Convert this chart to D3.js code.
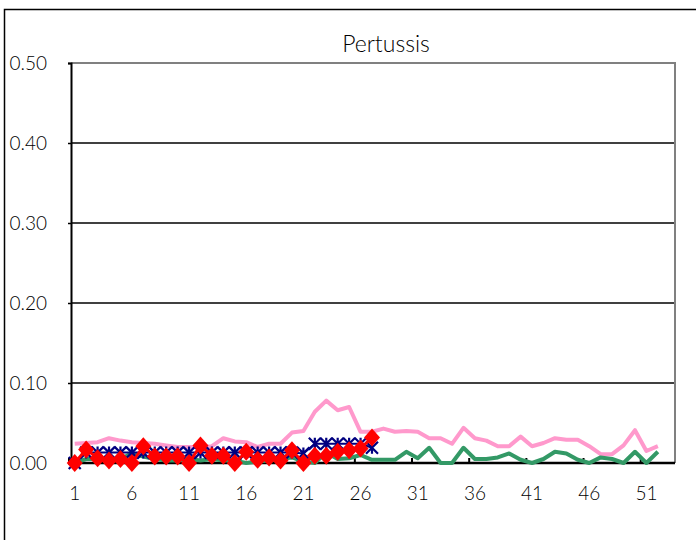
<!DOCTYPE html>
<html><head><meta charset="utf-8">
<script src="https://cdn.jsdelivr.net/npm/d3@7"></script>
<style>body{margin:0;background:#fff}svg{display:block}</style>
</head><body><svg id="c" width="696" height="540"></svg>
<script>
const weeks = d3.range(1, 54); // 53 category slots, week 53 empty
const tickLabels = [1,6,11,16,21,26,31,36,41,46,51];
const yTicks = [0,0.1,0.2,0.3,0.4,0.5];
const pink = [0.024,0.025,0.026,0.031,0.028,0.026,0.025,0.024,0.022,0.020,0.020,0.020,0.021,0.031,0.027,0.026,0.020,0.024,0.024,0.038,0.040,0.064,0.078,0.066,0.070,0.039,0.039,0.043,0.039,0.040,0.039,0.031,0.031,0.024,0.044,0.031,0.028,0.021,0.021,0.033,0.021,0.025,0.031,0.029,0.029,0.021,0.011,0.011,0.022,0.041,0.015,0.021];
const green = [0,0.005,0.005,0.003,0.005,0.012,0.008,0.005,0.003,0.003,0.005,0.003,0.005,0.003,0.003,0,0.002,0.003,0.005,0.007,0.002,0,0.013,0.005,0.006,0.010,0.004,0.004,0.004,0.014,0.006,0.019,0,0,0.019,0.005,0.005,0.007,0.012,0.004,0,0.005,0.014,0.012,0.004,0,0.007,0.005,0,0.014,0,0.014];
const blue = [0,0.013,0.013,0.013,0.013,0.013,0.013,0.013,0.013,0.013,0.013,0.013,0.013,0.013,0.013,0.013,0.013,0.013,0.013,0.013,0.012,0.024,0.024,0.024,0.024,0.024,0.019];
const red = [0,0.017,0.006,0.003,0.005,0,0.021,0.008,0.008,0.008,0,0.022,0.009,0.009,0,0.014,0.004,0.007,0.003,0.016,0,0.009,0.009,0.014,0.016,0.018,0.032];

const svg = d3.select("#c");
const font = "Lato,'Open Sans',sans-serif";
const L = 71, R = 675, T = 63, B = 463;
const x = d3.scaleBand().domain(weeks).range([69, 675]).paddingInner(0).paddingOuter(0);
const cx = w => x(w) + x.bandwidth()/2;
const y = d3.scaleLinear().domain([0, 0.5]).range([B, T]);

// outer chart border
svg.append("rect").attr("x",4.5).attr("y",9.5).attr("width",720).attr("height",600)
  .attr("fill","none").attr("stroke","#000").attr("stroke-width",1.5);

// title
svg.append("text").attr("x",386).attr("y",52).attr("text-anchor","middle")
  .attr("font-family",font).attr("font-weight",300).attr("font-size",23).attr("fill","#000").text("Pertussis");

// gridlines
svg.append("g").selectAll("line").data(yTicks.filter(v=>v>0 && v<0.5)).join("line")
  .attr("x1",L).attr("x2",R).attr("y1",d=>y(d)).attr("y2",d=>y(d))
  .attr("stroke","#000").attr("stroke-width",1.5);
// top & right plot border (gray)
svg.append("path").attr("d",`M${L},${y(0.5)}H${R}V${B}`).attr("fill","none")
  .attr("stroke","#808080").attr("stroke-width",2);

// y axis
const yAxis = svg.append("g").attr("transform",`translate(${L},0)`)
  .call(d3.axisLeft(y).tickValues(yTicks).tickFormat(d3.format(".2f")).tickSize(3).tickPadding(21));
yAxis.select(".domain").attr("stroke","#000").attr("stroke-width",2);
yAxis.selectAll(".tick line").attr("stroke","#000").attr("stroke-width",1.5);
yAxis.selectAll("text").attr("font-family",font).attr("font-weight",300).attr("font-size",19).attr("fill","#000");

// x axis: labels at category centres
const xAxis = svg.append("g").attr("transform",`translate(0,${B})`)
  .call(d3.axisBottom(x).tickValues(tickLabels).tickSize(0).tickPadding(24));
xAxis.select(".domain").remove();
xAxis.selectAll("text").attr("font-family",font).attr("font-weight",300).attr("font-size",19).attr("fill","#000");
// tick marks between categories, pointing up
svg.append("g").selectAll("line").data(tickLabels).join("line")
  .attr("x1",d=>x(d)).attr("x2",d=>x(d)).attr("y1",B).attr("y2",B-5)
  .attr("stroke","#000").attr("stroke-width",2);
svg.append("line").attr("x1",L).attr("x2",R).attr("y1",B).attr("y2",B)
  .attr("stroke","#000").attr("stroke-width",2.5);

const line = d3.line().x((d,i)=>cx(i+1)).y(d=>y(d));
svg.append("path").datum(pink).attr("d",line).attr("fill","none").attr("stroke","#FF99CC").attr("stroke-width",4).attr("stroke-linejoin","round");
svg.append("path").datum(green).attr("d",line).attr("fill","none").attr("stroke","#339966").attr("stroke-width",4).attr("stroke-linejoin","round");

// blue series with star markers
svg.append("path").datum(blue).attr("d",line).attr("fill","none").attr("stroke","#000080").attr("stroke-width",2);
const s = 6;
svg.append("g").selectAll("path").data(blue).join("path")
  .attr("d",(d,i)=>{const px=cx(i+1), py=y(d);
    return `M${px-s},${py-s}L${px+s},${py+s}M${px-s},${py+s}L${px+s},${py-s}M${px},${py-s}L${px},${py+s}`;})
  .attr("stroke","#000080").attr("stroke-width",2.2).attr("fill","none");

// red series with diamond markers
svg.append("path").datum(red).attr("d",line).attr("fill","none").attr("stroke","#FF0000").attr("stroke-width",3);
svg.append("g").selectAll("path").data(red).join("path")
  .attr("d",(d,i)=>{const px=cx(i+1), py=y(d), h=9, w=8;
    return `M${px},${py-h}L${px+w},${py}L${px},${py+h}L${px-w},${py}Z`;})
  .attr("fill","#FF0000");
</script></body></html>
